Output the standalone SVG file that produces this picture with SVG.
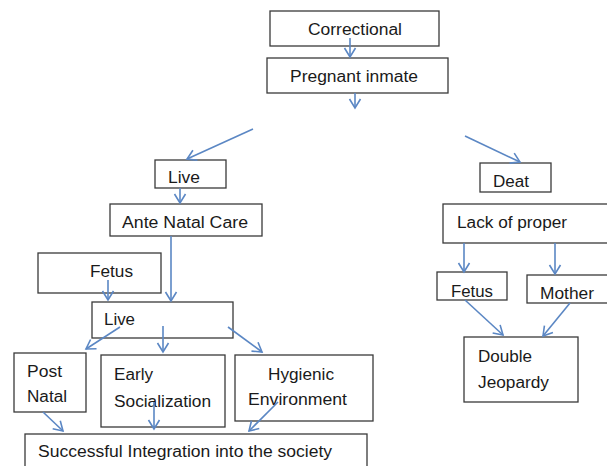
<svg xmlns="http://www.w3.org/2000/svg" width="607" height="466" viewBox="0 0 607 466">
<defs>
<marker id="ah" markerUnits="userSpaceOnUse" markerWidth="14" markerHeight="14" viewBox="0 0 14 14" refX="12" refY="7" orient="auto">
<path d="M3,1.5 L12,7 L3,12.5" fill="none" stroke="#5b87c4" stroke-width="1.6"/>
</marker>
</defs>
<style>
.n rect{fill:#fff;stroke:#3a3a3a;stroke-width:1.3}
text{font-family:"Liberation Sans",Arial,sans-serif;font-size:16px;fill:#1a1a1a}
.c line{stroke:#5b87c4;stroke-width:1.6;marker-end:url(#ah)}
</style>
<rect width="607" height="466" style="fill:#fff;stroke:none"/>
<g class="n">
<g id="correctional"><rect x="270" y="11" width="169" height="35"/><text x="308" y="35" textLength="94" lengthAdjust="spacingAndGlyphs">Correctional</text></g>
<g id="pregnant"><rect x="267" y="58" width="181" height="35"/><text x="290" y="82" textLength="128" lengthAdjust="spacingAndGlyphs">Pregnant inmate</text></g>
<g id="live1"><rect x="155" y="160" width="71" height="28"/><text x="168" y="183" textLength="32" lengthAdjust="spacingAndGlyphs">Live</text></g>
<g id="antenatal"><rect x="110" y="204" width="152" height="32"/><text x="122" y="228" textLength="126" lengthAdjust="spacingAndGlyphs">Ante Natal Care</text></g>
<g id="fetus1"><rect x="38" y="253" width="123" height="40"/><text x="90" y="277" textLength="43" lengthAdjust="spacingAndGlyphs">Fetus</text></g>
<g id="live2"><rect x="92" y="302" width="141" height="36"/><text x="104" y="325" textLength="31" lengthAdjust="spacingAndGlyphs">Live</text></g>
<g id="postnatal"><rect x="14" y="353" width="72" height="59"/><text x="27" y="377" textLength="35" lengthAdjust="spacingAndGlyphs">Post</text><text x="27" y="402" textLength="40" lengthAdjust="spacingAndGlyphs">Natal</text></g>
<g id="early"><rect x="101" y="355" width="124" height="72"/><text x="114" y="380" textLength="39" lengthAdjust="spacingAndGlyphs">Early</text><text x="114" y="407" textLength="97" lengthAdjust="spacingAndGlyphs">Socialization</text></g>
<g id="hygienic"><rect x="235" y="355" width="138" height="66"/><text x="268" y="380" textLength="66" lengthAdjust="spacingAndGlyphs">Hygienic</text><text x="248" y="405" textLength="99" lengthAdjust="spacingAndGlyphs">Environment</text></g>
<g id="successful"><rect x="25" y="434" width="342" height="40"/><text x="38" y="457" textLength="294" lengthAdjust="spacingAndGlyphs">Successful Integration into the society</text></g>
<g id="deat"><rect x="480" y="163" width="71" height="29"/><text x="493" y="187" textLength="36" lengthAdjust="spacingAndGlyphs">Deat</text></g>
<g id="lack"><rect x="443" y="204" width="170" height="39"/><text x="457" y="228" textLength="110" lengthAdjust="spacingAndGlyphs">Lack of proper</text></g>
<g id="fetus2"><rect x="437" y="272" width="70" height="28"/><text x="451" y="297" textLength="42" lengthAdjust="spacingAndGlyphs">Fetus</text></g>
<g id="mother"><rect x="527" y="275" width="86" height="28"/><text x="540" y="299" textLength="54" lengthAdjust="spacingAndGlyphs">Mother</text></g>
<g id="double"><rect x="464" y="337" width="114" height="65"/><text x="478" y="362" textLength="54" lengthAdjust="spacingAndGlyphs">Double</text><text x="478" y="388" textLength="71" lengthAdjust="spacingAndGlyphs">Jeopardy</text></g>
</g>
<g class="c" id="connectors">
<line x1="350" y1="38" x2="350" y2="57"/>
<line x1="355" y1="93" x2="355" y2="108"/>
<line x1="253" y1="129" x2="187" y2="159"/>
<line x1="465" y1="136" x2="520" y2="162"/>
<line x1="180" y1="188" x2="180" y2="203"/>
<line x1="171" y1="236" x2="171" y2="301"/>
<line x1="108" y1="280" x2="108" y2="300"/>
<line x1="120" y1="327" x2="86" y2="349"/>
<line x1="163" y1="326" x2="163" y2="352"/>
<line x1="228" y1="327" x2="262" y2="352"/>
<line x1="43" y1="412" x2="63" y2="431"/>
<line x1="154" y1="402" x2="154" y2="429"/>
<line x1="278" y1="402" x2="249" y2="431"/>
<line x1="464" y1="243" x2="464" y2="272"/>
<line x1="555" y1="243" x2="555" y2="274"/>
<line x1="465" y1="300" x2="503" y2="335"/>
<line x1="570" y1="303" x2="543" y2="336"/>
</g>
</svg>
